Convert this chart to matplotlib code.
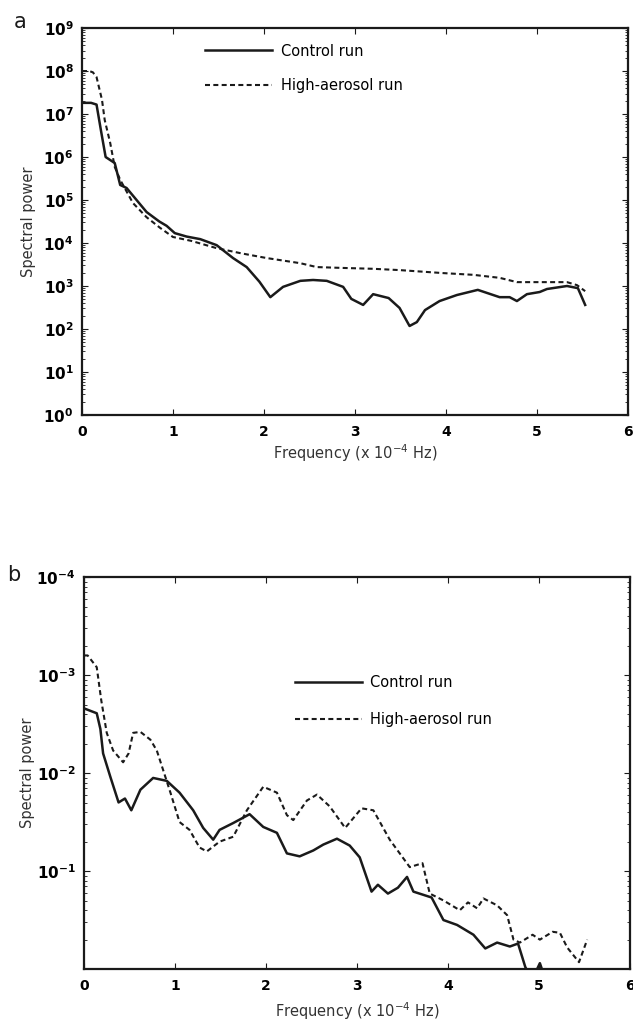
import numpy as np
import matplotlib
matplotlib.use('Agg')
import matplotlib.pyplot as plt
from matplotlib.ticker import LogLocator, NullFormatter, FixedLocator

# panel a: frequency (x 1e-4 Hz) and spectral power
fa_ctl = [0.0, 0.10, 0.16, 0.21, 0.26, 0.36, 0.42, 0.49, 0.60, 0.71, 0.85, 0.93, 1.02, 1.15, 1.30,
          1.48, 1.66, 1.81, 1.95, 2.07, 2.21, 2.40, 2.54, 2.69, 2.87, 2.96, 3.09, 3.20, 3.37, 3.49,
          3.60, 3.68, 3.77, 3.93, 4.12, 4.35, 4.59, 4.70, 4.78, 4.89, 5.03, 5.11, 5.33, 5.45, 5.53]
pa_ctl = [7.26, 7.26, 7.22, 6.6, 6.0, 5.86, 5.35, 5.28, 5.0, 4.72, 4.5, 4.4, 4.23, 4.15, 4.09,
          3.95, 3.65, 3.44, 3.1, 2.74, 2.98, 3.12, 3.14, 3.12, 2.98, 2.70, 2.56, 2.81, 2.72, 2.49,
          2.07, 2.16, 2.44, 2.65, 2.79, 2.91, 2.74, 2.74, 2.65, 2.81, 2.86, 2.93, 3.0, 2.95, 2.56]
fa_aer = [0.0, 0.08, 0.12, 0.16, 0.22, 0.25, 0.31, 0.36, 0.42, 0.56, 0.71, 0.86, 1.0, 1.2, 1.48,
          1.75, 2.03, 2.40, 2.58, 2.87, 3.2, 3.49, 3.97, 4.30, 4.59, 4.78, 5.14, 5.33, 5.44, 5.53]
pa_aer = [8.0, 8.0, 7.97, 7.86, 7.33, 6.86, 6.33, 5.77, 5.47, 4.93, 4.60, 4.35, 4.14, 4.05, 3.88,
          3.76, 3.65, 3.53, 3.44, 3.42, 3.40, 3.37, 3.30, 3.26, 3.19, 3.09, 3.09, 3.09, 3.02, 2.88]

# panel b
fb_ctl = [0.0, 0.14, 0.18, 0.21, 0.29, 0.38, 0.45, 0.52, 0.62, 0.76, 0.91, 1.05, 1.20, 1.31, 1.42,
          1.49, 1.64, 1.82, 1.97, 2.12, 2.23, 2.37, 2.52, 2.63, 2.78, 2.92, 3.03, 3.16, 3.23, 3.34,
          3.45, 3.55, 3.62, 3.82, 3.95, 4.10, 4.28, 4.41, 4.54, 4.68, 4.77, 4.85, 4.92, 4.97, 5.01,
          5.05, 5.2, 5.5]
pb_ctl = [2.66, 2.61, 2.45, 2.20, 1.96, 1.70, 1.74, 1.62, 1.83, 1.95, 1.92, 1.80, 1.62, 1.44, 1.32,
          1.42, 1.49, 1.58, 1.45, 1.39, 1.18, 1.15, 1.21, 1.27, 1.33, 1.26, 1.14, 0.79, 0.86, 0.77,
          0.83, 0.94, 0.79, 0.73, 0.50, 0.45, 0.35, 0.21, 0.27, 0.23, 0.26, 0.02, -0.1, -0.02, 0.06,
          -0.05, -0.3, -0.4]
fb_aer = [0.0, 0.04, 0.14, 0.19, 0.25, 0.32, 0.43, 0.49, 0.54, 0.62, 0.73, 0.80, 0.87, 0.95, 1.05,
          1.16, 1.27, 1.35, 1.49, 1.64, 1.79, 1.97, 2.12, 2.23, 2.30, 2.45, 2.56, 2.70, 2.87, 3.05,
          3.18, 3.36, 3.58, 3.72, 3.80, 3.95, 4.13, 4.22, 4.32, 4.39, 4.54, 4.65, 4.72, 4.79, 4.93,
          5.01, 5.15, 5.23, 5.31, 5.44, 5.53]
pb_aer = [3.20, 3.20, 3.08, 2.74, 2.41, 2.23, 2.11, 2.20, 2.41, 2.42, 2.34, 2.23, 2.03, 1.80, 1.50,
          1.42, 1.24, 1.20, 1.30, 1.35, 1.62, 1.86, 1.80, 1.57, 1.52, 1.72, 1.78, 1.66, 1.44, 1.64,
          1.62, 1.32, 1.04, 1.08, 0.77, 0.70, 0.60, 0.68, 0.62, 0.72, 0.65, 0.55, 0.30, 0.27, 0.35,
          0.30, 0.38, 0.37, 0.22, 0.07, 0.30]
ylab_b = ['$\\mathbf{10^{-1}}$', '$\\mathbf{10^{-2}}$', '$\\mathbf{10^{-3}}$', '$\\mathbf{10^{-4}}$']

lc = '#1a1a1a'
dots = (0, (2.4, 1.6))

fig = plt.figure(figsize=(6.33, 10.31), dpi=100)
ax1 = fig.add_axes((0.1295, 0.5975, 0.8625, 0.3753))
ax2 = fig.add_axes((0.1327, 0.0601, 0.8625, 0.3802))

def style(ax):
    ax.set_xlim(0, 6)
    ax.set_yscale('log')
    ax.set_xticks(range(7))
    ax.set_xticklabels([str(i) for i in range(7)], fontweight='bold', fontsize=10)
    ax.tick_params(which='both', direction='in', top=True, right=True, color=lc)
    ax.tick_params(which='major', length=4, pad=6)
    ax.tick_params(which='minor', length=2)
    ax.tick_params(axis='x', which='major', pad=7)
    for s in ax.spines.values():
        s.set_linewidth(1.6)
        s.set_color(lc)
    ax.set_xlabel('Frequency (x 10$^{-4}$ Hz)', fontsize=10.5, color='#333333')
    ax.set_ylabel('Spectral power', fontsize=10.5, color='#333333')

ax1.plot(fa_ctl, 10**np.array(pa_ctl), color=lc, lw=1.8, label='Control run')
ax1.plot(fa_aer, 10**np.array(pa_aer), color=lc, lw=1.5, ls=dots, label='High-aerosol run')
style(ax1)
ax1.set_ylim(1, 1e9)
ax1.yaxis.set_major_locator(FixedLocator([10.0**k for k in range(10)]))
ax1.yaxis.set_minor_locator(LogLocator(base=10, subs=np.arange(2, 10), numticks=20))
ax1.yaxis.set_minor_formatter(NullFormatter())
ax1.set_yticklabels(['$\\mathbf{10^{%d}}$' % k for k in range(10)], fontsize=11)
ax1.xaxis.set_label_coords(0.5, -0.07)
ax1.yaxis.set_label_coords(-0.085, 0.5)
ax1.legend(loc='upper left', bbox_to_anchor=(0.215, 0.975), frameon=False, fontsize=10.5,
           handlelength=4.6, labelspacing=1.35, handletextpad=0.6, borderaxespad=0)

ax2.plot(fb_ctl, 10**(np.array(pb_ctl) - 4), color=lc, lw=1.8, label='Control run')
ax2.plot(fb_aer, 10**(np.array(pb_aer) - 4), color=lc, lw=1.5, ls=dots, label='High-aerosol run')
style(ax2)
ax2.set_ylim(1e-4, 1)
ax2.yaxis.set_major_locator(FixedLocator([1e-3, 1e-2, 1e-1, 1]))
ax2.yaxis.set_minor_locator(LogLocator(base=10, subs=np.arange(2, 10), numticks=20))
ax2.yaxis.set_minor_formatter(NullFormatter())
ax2.set_yticklabels(ylab_b, fontsize=11)
ax2.xaxis.set_label_coords(0.5, -0.08)
ax2.yaxis.set_label_coords(-0.09, 0.5)
ax2.legend(loc='upper left', bbox_to_anchor=(0.375, 0.765), frameon=False, fontsize=10.5,
           handlelength=4.6, labelspacing=1.5, handletextpad=0.6, borderaxespad=0)

fig.text(20 / 633, 1 - 22 / 1031, 'a', fontsize=15, ha='center', va='center', color=lc)
fig.text(14 / 633, 1 - 575 / 1031, 'b', fontsize=15, ha='center', va='center', color=lc)

fig.savefig('out.png', dpi=100)
